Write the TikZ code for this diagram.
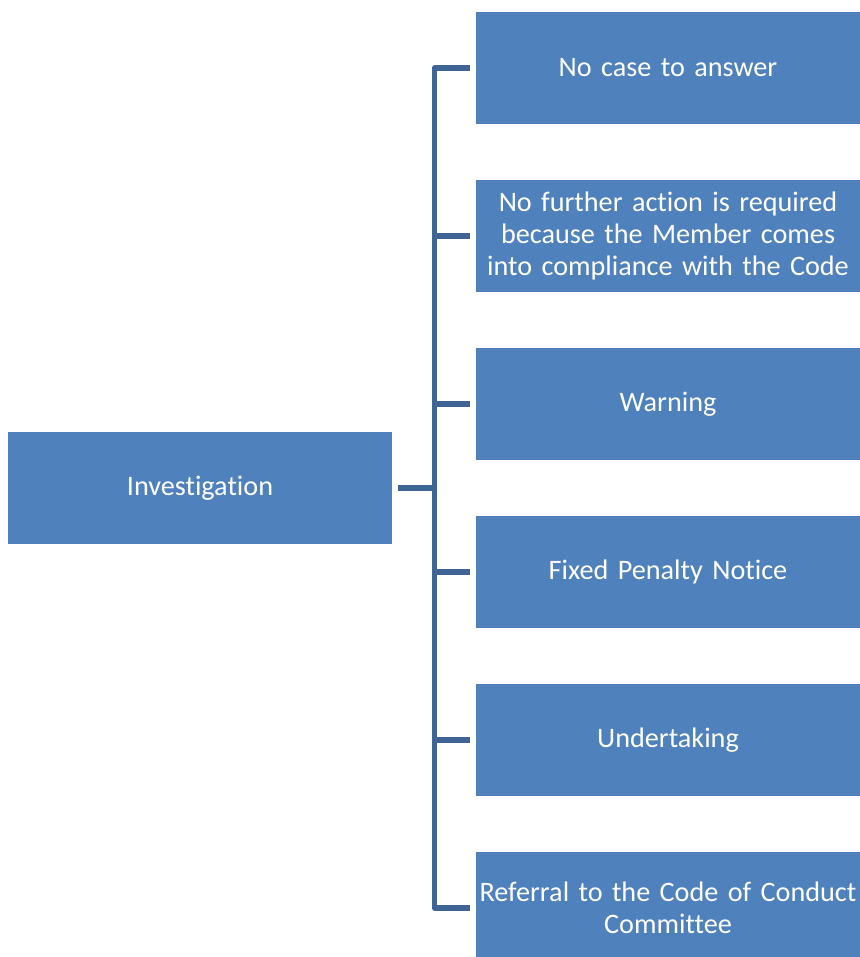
\documentclass[tikz,border=0pt]{standalone}
\usepackage{fontspec}
\setmainfont{Carlito}[Ligatures=NoCommon]
\usepackage{tikz}
\definecolor{boxblue}{HTML}{4F81BD}
\definecolor{linkblue}{HTML}{3F6597}
\tikzstyle{rect} = [
    rectangle,
    align=center,
    minimum width=192pt,
    minimum height=56pt,
    text width=191pt,
    inner sep=0pt,
    text centered,
    fill=boxblue,
    draw=none,
    text=white,
    font=\fontsize{14.1pt}{16pt}\selectfont,
]
\tikzstyle{link} = [line width=2.6pt, draw=linkblue, line join=round]

\begin{document}
\begin{tikzpicture}[x=0.5pt, y=-0.5pt]
    \useasboundingbox (0,0) rectangle (860,957);
    \node (inv) [rect] at (200,488) {Investigation};
    \node (nc) [rect] at (668,68) {No case to answer};
    \node (nf) [rect] at (668,236) {No further action is required\\ because the Member comes\\ into compliance with the Code};
    \node (wa) [rect] at (668,404) {Warning};
    \node (fp) [rect] at (668,572) {Fixed Penalty Notice};
    \node (ut) [rect] at (668,740) {Undertaking};
    \node (rc) [rect] at (668,908) {Referral to the Code of Conduct\\ Committee};

    % elbow connectors from the investigation box
    \foreach \c in {nc,nf,wa,fp,ut,rc}
        \draw [link] ([xshift=3pt]inv.east) -- ++(36,0) |- ([xshift=-3pt]\c.west);
\end{tikzpicture}
\end{document}
